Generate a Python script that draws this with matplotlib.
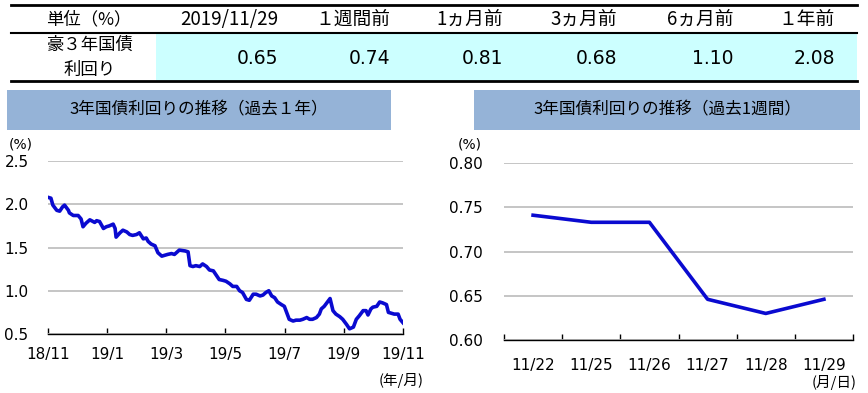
import matplotlib
matplotlib.use("Agg")
import matplotlib.pyplot as plt
import numpy as np
import pandas as pd
from matplotlib.patches import Rectangle

plt.rcParams["font.family"] = ["DejaVu Sans", "Noto Sans CJK JP"]
JP = ["Noto Sans CJK JP", "DejaVu Sans"]

W, H = 868, 393

# summary table
table_headers = ["2019/11/29", "１週間前", "1ヵ月前", "3ヵ月前", "6ヵ月前", "１年前"]
table_values = [0.65, 0.74, 0.81, 0.68, 1.10, 2.08]

# past year (daily)
year_dates = [
    "2018-11-29", "2018-12-02", "2018-12-04", "2018-12-08", "2018-12-11", "2018-12-14",
    "2018-12-16", "2018-12-20", "2018-12-21", "2018-12-25", "2018-12-30", "2019-01-02",
    "2019-01-04", "2019-01-07", "2019-01-11", "2019-01-16", "2019-01-18", "2019-01-21",
    "2019-01-25", "2019-01-28", "2019-01-31", "2019-02-04", "2019-02-06", "2019-02-07",
    "2019-02-11", "2019-02-14", "2019-02-18", "2019-02-21", "2019-02-24", "2019-02-28",
    "2019-03-03", "2019-03-07", "2019-03-10", "2019-03-12", "2019-03-15", "2019-03-19",
    "2019-03-22", "2019-03-26", "2019-03-29", "2019-04-01", "2019-04-05", "2019-04-08",
    "2019-04-13", "2019-04-19", "2019-04-22", "2019-04-24", "2019-04-27", "2019-04-30",
    "2019-05-04", "2019-05-07", "2019-05-11", "2019-05-14", "2019-05-18", "2019-05-21",
    "2019-05-24", "2019-05-28", "2019-05-31", "2019-06-04", "2019-06-07", "2019-06-11",
    "2019-06-14", "2019-06-17", "2019-06-21", "2019-06-24", "2019-06-28", "2019-07-01",
    "2019-07-05", "2019-07-08", "2019-07-11", "2019-07-14", "2019-07-17", "2019-07-20",
    "2019-07-23", "2019-07-27", "2019-07-30", "2019-08-02", "2019-08-04", "2019-08-08",
    "2019-08-11", "2019-08-15", "2019-08-18", "2019-08-22", "2019-08-25", "2019-08-28",
    "2019-09-01", "2019-09-04", "2019-09-06", "2019-09-09", "2019-09-13", "2019-09-15",
    "2019-09-18", "2019-09-21", "2019-09-25", "2019-09-28", "2019-10-02", "2019-10-05",
    "2019-10-09", "2019-10-12", "2019-10-15", "2019-10-19", "2019-10-22", "2019-10-24",
    "2019-10-27", "2019-10-29", "2019-11-02", "2019-11-05", "2019-11-08", "2019-11-12",
    "2019-11-14", "2019-11-17", "2019-11-20", "2019-11-24", "2019-11-26", "2019-11-29",
]
year_yields = [
    2.08, 2.07, 1.99, 1.93, 1.92, 1.97,
    1.99, 1.93, 1.90, 1.87, 1.87, 1.83,
    1.74, 1.78, 1.82, 1.79, 1.81, 1.80,
    1.72, 1.74, 1.75, 1.77, 1.72, 1.62,
    1.67, 1.70, 1.68, 1.65, 1.64, 1.65,
    1.67, 1.60, 1.61, 1.57, 1.54, 1.52,
    1.44, 1.40, 1.41, 1.42, 1.43, 1.42,
    1.47, 1.46, 1.45, 1.29, 1.28, 1.29,
    1.28, 1.31, 1.28, 1.24, 1.23, 1.18,
    1.13, 1.12, 1.11, 1.08, 1.05, 1.05,
    1.00, 0.98, 0.90, 0.89, 0.96, 0.96,
    0.94, 0.95, 0.98, 1.00, 0.94, 0.92,
    0.87, 0.84, 0.82, 0.73, 0.67, 0.65,
    0.66, 0.66, 0.67, 0.69, 0.67, 0.67,
    0.69, 0.73, 0.79, 0.82, 0.88, 0.91,
    0.77, 0.73, 0.70, 0.67, 0.61, 0.56,
    0.58, 0.67, 0.71, 0.77, 0.77, 0.72,
    0.79, 0.81, 0.82, 0.87, 0.86, 0.84,
    0.75, 0.74, 0.73, 0.73, 0.67, 0.63,
]
year_tick_labels = ["18/11", "19/1", "19/3", "19/5", "19/7", "19/9", "19/11"]

# past week
week_labels = ["11/22", "11/25", "11/26", "11/27", "11/28", "11/29"]
week_yields = [0.741, 0.733, 0.733, 0.646, 0.630, 0.646]

LINE = "#0A0AD0"
GRID = "#C0C0C0"
BANNER = "#95B3D7"
CYAN = "#CCFFFF"


def px_rect(x0, y0, x1, y1):
    return [x0 / W, 1 - y1 / H, (x1 - x0) / W, (y1 - y0) / H]


fig = plt.figure(figsize=(W / 100, H / 100), dpi=100)

# background layer in pixel coordinates: table and title banners
bg = fig.add_axes([0, 0, 1, 1])
bg.set_xlim(0, W)
bg.set_ylim(H, 0)
bg.axis("off")

bg.add_patch(Rectangle((156, 33), 701, 48, color=CYAN, lw=0))
bg.plot([11, 857], [5, 5], color="black", lw=2.0)
bg.plot([11, 857], [33, 33], color="black", lw=1.5)
bg.plot([11, 857], [81, 81], color="black", lw=2.0)

bg.text(89, 19, "単位（%）", ha="center", va="center", fontsize=12.5, family=JP)
bg.text(90, 45, "豪３年国債", ha="center", va="center", fontsize=12.5, family=JP)
bg.text(90, 70, "利回り", ha="center", va="center", fontsize=12.5, family=JP)

col_right = [278, 390, 503, 617, 733, 835]
for x, head, val in zip(col_right, table_headers, table_values):
    bg.text(x, 19, head, ha="right", va="center", fontsize=13.5, family=JP)
    bg.text(x, 58, f"{val:.2f}", ha="right", va="center", fontsize=13.5)

bg.add_patch(Rectangle((7, 90), 384, 40, color=BANNER, lw=0))
bg.add_patch(Rectangle((474, 90), 386, 40, color=BANNER, lw=0))
bg.text(199, 110, "3年国債利回りの推移（過去１年）", ha="center", va="center",
        fontsize=12, family=JP)
bg.text(667, 110, "3年国債利回りの推移（過去1週間）", ha="center", va="center",
        fontsize=12, family=JP)

bg.text(21, 144, "(%)", ha="center", va="center", fontsize=10)
bg.text(470, 145, "(%)", ha="center", va="center", fontsize=10)
bg.text(424, 381, "(年/月)", ha="right", va="center", fontsize=10.5, family=JP)
bg.text(857, 383, "(月/日)", ha="right", va="center", fontsize=10.5, family=JP)


def style_axis(ax, ypad):
    ax.set_facecolor("none")
    for side in ("left", "right", "top"):
        ax.spines[side].set_visible(False)
    ax.spines["bottom"].set_color("black")
    ax.spines["bottom"].set_linewidth(1.0)
    ax.yaxis.grid(True, color=GRID, lw=1.3)
    ax.set_axisbelow(True)
    ax.tick_params(axis="y", length=0, pad=ypad, labelsize=11)
    ax.tick_params(axis="x", which="major", direction="in", length=4, width=1,
                   color="black", labelsize=11, pad=9)


# left chart: past year
ax1 = fig.add_axes(px_rect(48, 161, 403, 334))
dates = pd.to_datetime(year_dates)
days = (dates - dates[0]).days.to_numpy()
ax1.plot(days, year_yields, color=LINE, lw=2.6, solid_joinstyle="round")
ax1.set_xlim(0, days[-1])
ax1.set_ylim(0.5, 2.5)
ax1.set_yticks([0.5, 1.0, 1.5, 2.0, 2.5])
ax1.set_yticklabels([f"{v:.1f}" for v in [0.5, 1.0, 1.5, 2.0, 2.5]])
ax1.set_xticks(np.linspace(0, days[-1], len(year_tick_labels)))
ax1.set_xticklabels(year_tick_labels)
style_axis(ax1, 14)

# right chart: past week
ax2 = fig.add_axes(px_rect(504, 163, 853, 340))
pos = np.arange(len(week_labels))
ax2.plot(pos, week_yields, color=LINE, lw=2.6, solid_joinstyle="round")
ax2.set_xlim(-0.5, len(week_labels) - 0.5)
ax2.set_ylim(0.6, 0.8)
yt = [0.60, 0.65, 0.70, 0.75, 0.80]
ax2.set_yticks(yt)
ax2.set_yticklabels([f"{v:.2f}" for v in yt])
ax2.set_xticks(np.arange(len(week_labels) + 1) - 0.5)
ax2.set_xticklabels([])
ax2.set_xticks(pos, minor=True)
ax2.set_xticklabels(week_labels, minor=True)
style_axis(ax2, 15)
ax2.tick_params(axis="x", which="minor", length=0, labelsize=11, pad=13)

fig.savefig("out.png", dpi=100)
